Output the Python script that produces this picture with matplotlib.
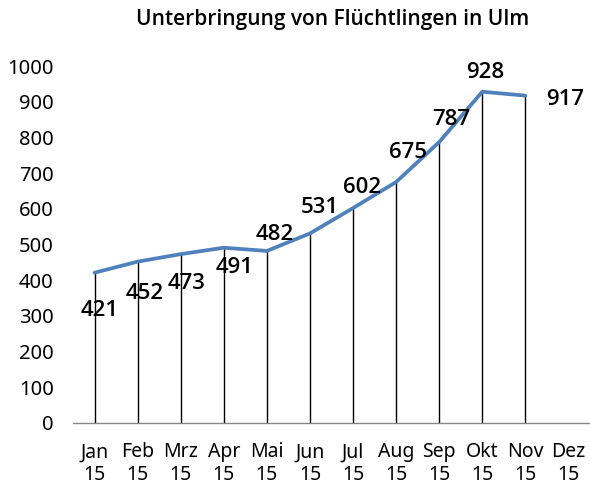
import matplotlib
matplotlib.use("Agg")
import matplotlib.pyplot as plt

plt.rcParams['font.family'] = ['Noto Sans', 'DejaVu Sans']

months = ["Jan\n15", "Feb\n15", "Mrz\n15", "Apr\n15", "Mai\n15", "Jun\n15",
          "Jul\n15", "Aug\n15", "Sep\n15", "Okt\n15", "Nov\n15", "Dez\n15"]
values = [421, 452, 473, 491, 482, 531, 602, 675, 787, 928, 917]
# label offsets in points (style)
offsets = [(4, -27), (5, -23), (4.5, -21), (8, -14), (6, 11.5), (7, 19),
           (6.5, 15), (8.5, 21.5), (9, 16.5), (2, 14), (28.5, -3)]

fig = plt.figure(figsize=(5.9, 4.88), dpi=100)
ax = fig.add_axes([73/590, 1-423/488, 1-73/590, (423-66)/488])

x = list(range(len(values)))
ax.vlines(x, 0, values, color='black', linewidth=1.0, zorder=1)
ax.plot(x, values, color='#4F81BD', linewidth=2.7, zorder=2, solid_capstyle='round')
for xi, v, off in zip(x, values, offsets):
    ax.annotate(str(v), (xi, v), xytext=off, textcoords='offset points',
                ha='center', va='center', fontsize=16, fontweight='semibold',
                family=['Open Sans', 'DejaVu Sans'], color='black')

ax.set_xlim(-0.5, 11.5)
ax.set_ylim(0, 1000)
ax.set_xticks(range(len(months)))
ax.set_xticklabels(months, fontsize=14, linespacing=1.15)
ax.set_yticks(range(0, 1001, 100))
ax.tick_params(axis='y', length=0, pad=14, labelsize=14.5)
ax.tick_params(axis='x', length=0, pad=14)
for s in ['top', 'right', 'left']:
    ax.spines[s].set_visible(False)
ax.spines['bottom'].set_color('#868686')
ax.spines['bottom'].set_linewidth(1.0)

fig.text(333/590, 1-19/488, "Unterbringung von Flüchtlingen in Ulm", ha='center', va='center',
         fontsize=15, fontweight='semibold', family=['Open Sans', 'DejaVu Sans'])

fig.savefig("out.png", dpi=100)
